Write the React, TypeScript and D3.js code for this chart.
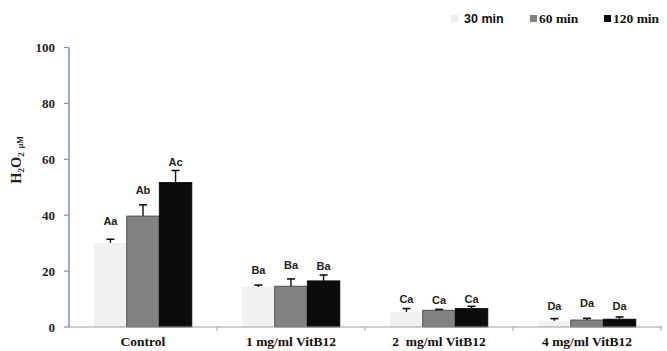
import React from "react";
import * as d3 from "d3";

const categories = ["Control", "1 mg/ml VitB12", "2  mg/ml VitB12", "4 mg/ml VitB12"];
const series = ["30 min", "60 min", "120 min"];
const values30 = [30.1, 14.3, 5.4, 2.2];
const values60 = [39.7, 14.6, 6.0, 2.5];
const values120 = [51.7, 16.5, 6.6, 2.8];
const err30 = [1.3, 0.7, 1.2, 0.8];
const err60 = [4.0, 2.6, 0.3, 0.6];
const err120 = [4.3, 2.1, 0.8, 0.8];
const labels30 = ["Aa", "Ba", "Ca", "Da"];
const labels60 = ["Ab", "Ba", "Ca", "Da"];
const labels120 = ["Ac", "Ba", "Ca", "Da"];
const labelAt30 = [36.5, 18.8, 8.6, 6.2];
const labelAt60 = [47.7, 20.9, 8.1, 7.0];
const labelAt120 = [57.7, 20.5, 8.6, 6.2];
const yTicks = [0, 20, 40, 60, 80, 100];

const colors = ["#f1f1f1", "#828282", "#0c0c0c"];
const strokes = ["none", "#3a3a3a", "#000"];

const W = 667;
const H = 351;
const left = 69;
const right = 661;
const top = 47.5;
const bottom = 327;

const serif = "'Liberation Serif', 'Times New Roman', serif";
const sans = "'Liberation Sans', Arial, sans-serif";

export default function App() {
  const x0 = d3.scaleBand<string>().domain(categories).range([left, right]).padding(0);
  const bw = x0.bandwidth();
  const x1 = d3.scaleBand<string>().domain(series).range([bw * 0.17, bw * 0.83]).padding(0);
  const y = d3.scaleLinear().domain([0, 100]).range([bottom, top]);

  const vals = [values30, values60, values120];
  const errs = [err30, err60, err120];
  const labs = [labels30, labels60, labels120];
  const labAt = [labelAt30, labelAt60, labelAt120];

  const legendX = [451, 530, 604];

  return (
    <svg width={W} height={H} style={{ position: "absolute", left: 0, top: 0, background: "#fff" }}>
      {/* bars */}
      {categories.map((c, ci) => (
        <g key={c} transform={`translate(${x0(c)},0)`}>
          {series.map((s, si) => {
            const v = vals[si][ci];
            const e = errs[si][ci];
            const bx = x1(s)!;
            const w = x1.bandwidth();
            const cx = bx + w / 2;
            return (
              <g key={s}>
                <rect
                  x={bx}
                  y={y(v)}
                  width={w}
                  height={y(0) - y(v)}
                  fill={colors[si]}
                  stroke={strokes[si]}
                  strokeWidth={0.8}
                />
                <line x1={cx} x2={cx} y1={y(v)} y2={y(v + e)} stroke="#111" strokeWidth={1.4} />
                <line x1={cx - 4} x2={cx + 4} y1={y(v + e)} y2={y(v + e)} stroke="#111" strokeWidth={1.6} />
                <text
                  x={cx}
                  y={y(labAt[si][ci])}
                  textAnchor="middle"
                  fontFamily={sans}
                  fontWeight="bold"
                  fontSize={11}
                  fill="#222"
                >
                  {labs[si][ci]}
                </text>
              </g>
            );
          })}
        </g>
      ))}

      {/* x axis */}
      <line x1={left} x2={right + 1} y1={bottom} y2={bottom} stroke="#a0a0a0" strokeWidth={1.2} />
      {categories.map((c) => (
        <line
          key={"t" + c}
          x1={x0(c)! + bw}
          x2={x0(c)! + bw}
          y1={bottom}
          y2={bottom + 4}
          stroke="#a0a0a0"
          strokeWidth={1}
        />
      ))}
      {categories.map((c) => (
        <text
          key={"l" + c}
          x={x0(c)! + bw / 2}
          y={bottom + 19}
          textAnchor="middle"
          fontFamily={serif}
          fontWeight="bold"
          fontSize={13.5}
          fill="#111"
          style={{ whiteSpace: "pre" }}
        >
          {c}
        </text>
      ))}

      {/* y axis */}
      <line x1={left} x2={left} y1={top} y2={bottom} stroke="#7196c9" strokeWidth={1.5} />
      {yTicks.map((t) => (
        <g key={t}>
          <line x1={left - 5} x2={left} y1={y(t)} y2={y(t)} stroke="#7196c9" strokeWidth={1.2} />
          <text
            x={55}
            y={y(t) + 4.5}
            textAnchor="end"
            fontFamily={serif}
            fontWeight="bold"
            fontSize={13}
            fill="#222"
          >
            {t}
          </text>
        </g>
      ))}

      {/* y title */}
      <text
        transform="translate(21,160) rotate(-90)"
        textAnchor="middle"
        fontFamily={serif}
        fontWeight="bold"
        fontSize={14.5}
        fill="#222"
      >
        <tspan>H</tspan>
        <tspan fontSize={9} dy={3}>2</tspan>
        <tspan dy={-3}>O</tspan>
        <tspan fontSize={9} dy={3}>2</tspan>
        <tspan fontSize={8} dy={-1} dx={4}>μM</tspan>
      </text>

      {/* legend */}
      {series.map((s, si) => (
        <g key={"lg" + s}>
          <rect
            x={legendX[si]}
            y={15}
            width={7}
            height={7}
            fill={si === 0 ? "#ececec" : colors[si]}
          />
          <text
            x={legendX[si] + (si === 0 ? 13 : 9)}
            y={23}
            fontFamily={si === 0 ? sans : serif}
            fontWeight="bold"
            fontSize={si === 0 ? 12.5 : 13.5}
            fill="#111"
          >
            {s}
          </text>
        </g>
      ))}
    </svg>
  );
}
